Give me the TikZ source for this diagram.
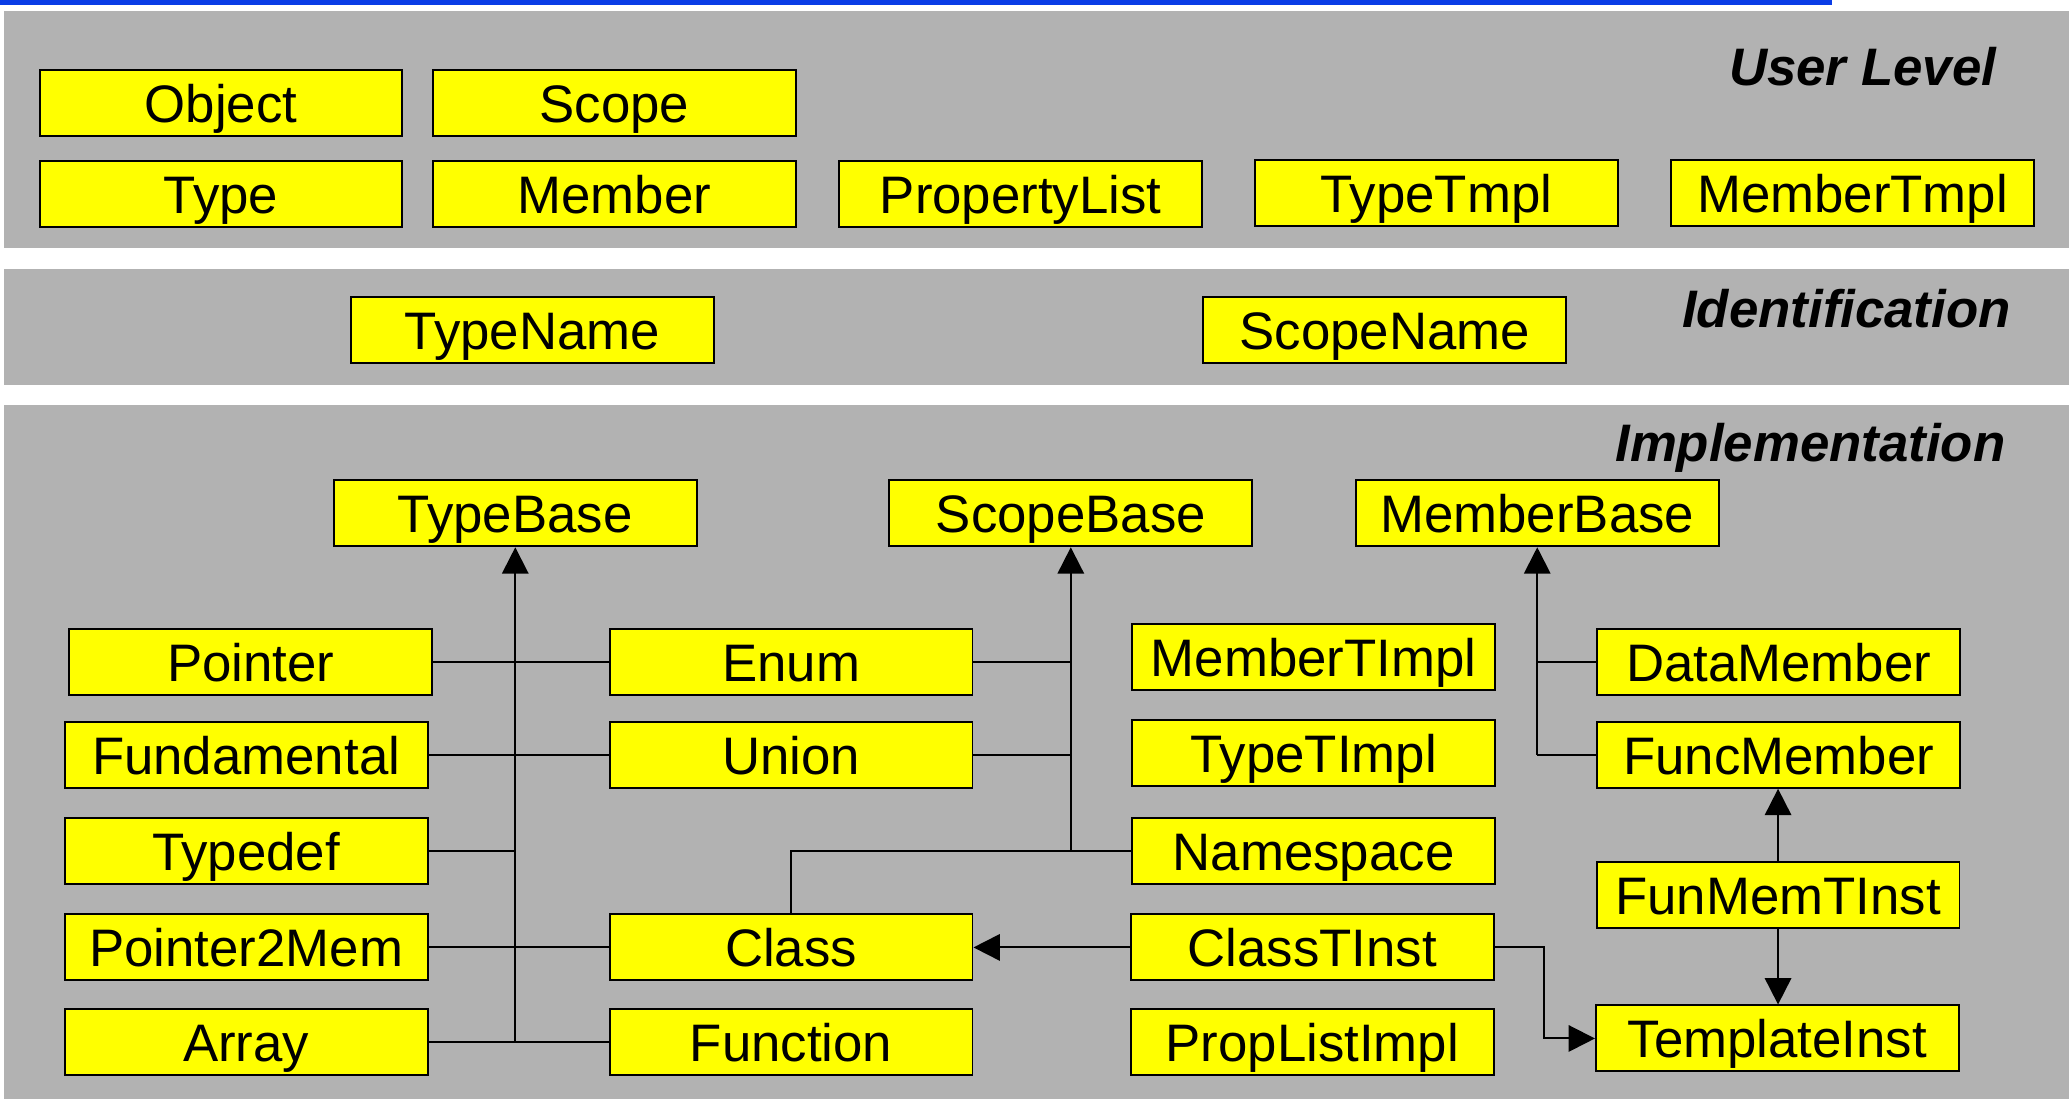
\documentclass[tikz,border=0pt]{standalone}
\usepackage{fontspec}
\setmainfont{Liberation Sans}
\usetikzlibrary{arrows.meta}
\definecolor{bandgray}{RGB}{178,178,178}
\definecolor{boxyellow}{RGB}{255,255,0}
\definecolor{topblue}{RGB}{10,60,230}
\tikzset{
  cls/.style={draw=black, fill=boxyellow, line width=1.5pt, minimum width=275pt,
    minimum height=50pt, inner sep=0pt, text height=29.5pt, text depth=0pt,
    font=\fontsize{40}{44}\selectfont},
  level/.style={anchor=base east, inner sep=0pt,
    font=\fontsize{40}{44}\selectfont\bfseries\itshape},
  link/.style={line width=1.5pt, draw=black},
  inherit/.style={link, -{Triangle[length=20pt, width=20pt]}},
}
\begin{document}
\begin{tikzpicture}[x=1pt, y=-1pt]
\useasboundingbox (0,0) rectangle (1568,833);
\fill[white] (0,0) rectangle (1568,833);

% title rule and the three layer bands
\fill[topblue] (0,0) rectangle (1388,4);
\fill[bandgray] (3,8) rectangle (1568,188);
\fill[bandgray] (3,204) rectangle (1568,292);
\fill[bandgray] (3,307) rectangle (1568,833);

\node[level] (lblUser) at (1513,65) {User Level};
\node[level] (lblIdent) at (1524,248) {Identification};
\node[level] (lblImpl) at (1520,350) {Implementation};

% user level
\node[cls] (Object) at (167.5,78) {Object};
\node[cls] (Scope) at (465.5,78) {Scope};
\node[cls] (Type) at (167.5,147) {Type};
\node[cls] (Member) at (465.5,147) {Member};
\node[cls] (PropertyList) at (773.5,147) {PropertyList};
\node[cls] (TypeTmpl) at (1088.5,146) {TypeTmpl};
\node[cls] (MemberTmpl) at (1404,146) {MemberTmpl};

% identification
\node[cls] (TypeName) at (403.5,250) {TypeName};
\node[cls] (ScopeName) at (1049.5,250) {ScopeName};

% implementation
\node[cls] (TypeBase) at (390.5,389) {TypeBase};
\node[cls] (ScopeBase) at (811.5,389) {ScopeBase};
\node[cls] (MemberBase) at (1165,389) {MemberBase};

\node[cls] (Pointer) at (190,502) {Pointer};
\node[cls] (Fundamental) at (186.5,572) {Fundamental};
\node[cls] (Typedef) at (186.5,645) {Typedef};
\node[cls] (Pointer2Mem) at (186.5,718) {Pointer2Mem};
\node[cls] (Array) at (186.5,790) {Array};

\node[cls] (Enum) at (599.5,502) {Enum};
\node[cls] (Union) at (599.5,572) {Union};
\node[cls] (Class) at (599.5,718) {Class};
\node[cls] (Function) at (599.5,790) {Function};

\node[cls] (MemberTImpl) at (995.5,498) {MemberTImpl};
\node[cls] (TypeTImpl) at (995.5,571) {TypeTImpl};
\node[cls] (Namespace) at (995.5,645) {Namespace};
\node[cls] (ClassTInst) at (994.5,718) {ClassTInst};
\node[cls] (PropListImpl) at (994.5,790) {PropListImpl};

\node[cls] (DataMember) at (1348,502) {DataMember};
\node[cls] (FuncMember) at (1348,572) {FuncMember};
\node[cls] (FunMemTInst) at (1347.5,678) {FunMemTInst};
\node[cls] (TemplateInst) at (1347,787) {TemplateInst};

% junction points on the inheritance trunks
\coordinate (tbFoot) at (TypeBase.south |- Array.east);
\coordinate (sbFoot) at (ScopeBase.south |- Namespace.west);
\coordinate (mbFoot) at (MemberBase.south |- FuncMember.west);
\coordinate (bend) at (1170,0);

% type hierarchy
\draw[inherit] (tbFoot) -- (TypeBase.south);
\draw[link] (Pointer.east) -- (Enum.west);
\draw[link] (Fundamental.east) -- (Union.west);
\draw[link] (Typedef.east) -- (TypeBase.south |- Typedef.east);
\draw[link] (Pointer2Mem.east) -- (Class.west);
\draw[link] (Array.east) -- (Function.west);

% scope hierarchy
\draw[inherit] (sbFoot) -- (ScopeBase.south);
\draw[link] (Enum.east) -- (ScopeBase.south |- Enum.east);
\draw[link] (Union.east) -- (ScopeBase.south |- Union.east);
\draw[link] (Namespace.west) -- (sbFoot);
\draw[link] (Class.north) |- (sbFoot);

% member hierarchy
\draw[inherit] (mbFoot) -- (MemberBase.south);
\draw[link] (DataMember.west) -- (MemberBase.south |- DataMember.west);
\draw[link] (FuncMember.west) -- (mbFoot);

% template instances
\draw[inherit] (ClassTInst.west) -- (Class.east);
\draw[inherit] (ClassTInst.east) -- (bend |- ClassTInst.east) -- (bend |- TemplateInst.west) -- (TemplateInst.west);
\draw[inherit] (FunMemTInst.north) -- (FunMemTInst.north |- FuncMember.south);
\draw[inherit] (FunMemTInst.south) -- (FunMemTInst.south |- TemplateInst.north);
\end{tikzpicture}
\end{document}
